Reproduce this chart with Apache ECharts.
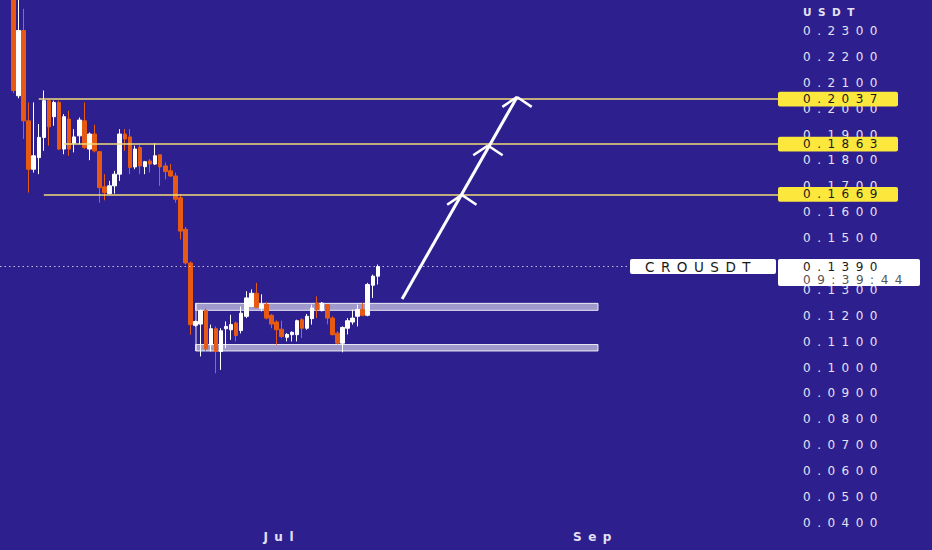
<!DOCTYPE html>
<html>
<head>
<meta charset="utf-8">
<script src="https://cdn.jsdelivr.net/npm/echarts@6/dist/echarts.min.js"></script>
<style>
html, body { margin: 0; padding: 0; background: #2e1f8e; }
#chart { width: 932px; height: 550px; }
#chart text { letter-spacing: 6.5px; }
</style>
</head>
<body>
<div id="chart"></div>
<script>
// ---- data ----
const firstDay = '2024-05-09';
const opens = [0.2500,0.2050,0.2302,0.1953,0.1766,0.1811,0.1889,0.2031,0.1969,0.2024,
0.1844,0.1960,0.1866,0.1895,0.1953,0.1844,0.1902,0.1834,0.1698,0.1672,
0.1702,0.1747,0.1902,0.1891,0.1775,0.1850,0.1776,0.1798,0.1786,0.1822,
0.1779,0.1760,0.1740,0.1656,0.1534,0.1404,0.1163,0.1168,0.1220,0.1088,
0.1150,0.1062,0.1150,0.1146,0.1172,0.1143,0.1198,0.1236,0.1287,0.1229,
0.1244,0.1202,0.1176,0.1148,0.1117,0.1127,0.1127,0.1185,0.1152,0.1189,
0.1249,0.1220,0.1243,0.1191,0.1133,0.1094,0.1152,0.1176,0.1198,0.1224,
0.1202,0.1318,0.1353];
const closes = [0.2070,0.2302,0.1953,0.1766,0.1818,0.1889,0.2031,0.1930,0.2024,0.1844,
0.1969,0.1844,0.1891,0.1956,0.1850,0.1902,0.1837,0.1695,0.1676,0.1702,
0.1747,0.1902,0.1883,0.1773,0.1844,0.1779,0.1795,0.1786,0.1818,0.1775,
0.1757,0.1740,0.1650,0.1527,0.1404,0.1166,0.1178,0.1220,0.1072,0.1150,
0.1062,0.1142,0.1159,0.1166,0.1124,0.1210,0.1269,0.1287,0.1233,0.1244,
0.1191,0.1168,0.1146,0.1120,0.1128,0.1136,0.1181,0.1152,0.1198,0.1230,
0.1224,0.1249,0.1191,0.1127,0.1094,0.1155,0.1181,0.1191,0.1224,0.1202,
0.1321,0.1353,0.1390];
const lows = [0.2060,0.2040,0.1883,0.1676,0.1753,0.1747,0.1837,0.1857,0.1934,0.1840,
0.1824,0.1818,0.1831,0.1863,0.1844,0.1801,0.1831,0.1637,0.1646,0.1669,
0.1672,0.1721,0.1837,0.1747,0.1766,0.1747,0.1747,0.1753,0.1782,0.1702,
0.1727,0.1736,0.1637,0.1495,0.1398,0.1127,0.1158,0.1043,0.1062,0.1062,
0.0978,0.0991,0.1075,0.1107,0.1101,0.1132,0.1191,0.1233,0.1230,0.1217,
0.1186,0.1152,0.1088,0.1114,0.1101,0.1101,0.1101,0.1114,0.1146,0.1166,
0.1191,0.1217,0.1167,0.1124,0.1090,0.1059,0.1128,0.1166,0.1159,0.1198,
0.1198,0.1269,0.1321];
const highs = [0.2550,0.2450,0.2386,0.2024,0.2024,0.1941,0.2070,0.2031,0.2031,0.2031,
0.1979,0.1992,0.1921,0.1966,0.2024,0.1908,0.1938,0.1837,0.1747,0.1721,
0.1760,0.1921,0.1921,0.1921,0.1857,0.1860,0.1798,0.1805,0.1866,0.1822,
0.1792,0.1786,0.1753,0.1671,0.1543,0.1410,0.1182,0.1224,0.1229,0.1166,
0.1159,0.1152,0.1178,0.1204,0.1178,0.1236,0.1295,0.1302,0.1327,0.1283,
0.1252,0.1207,0.1182,0.1181,0.1133,0.1140,0.1185,0.1191,0.1207,0.1243,
0.1275,0.1253,0.1244,0.1198,0.1140,0.1159,0.1191,0.1224,0.1243,0.1249,
0.1327,0.1359,0.1398];

const xTickMonths = [7, 9];            // months labelled on the time axis
const xTickLabels = ['Jul', 'Sep'];
const xRange = ['2024-05-06 08:10', '2024-10-07 01:26'];
const yRange = [0.03, 0.24197];
const yStep = 0.01;
const yLabelRange = [0.04, 0.23];

const levels = [0.2037, 0.1863, 0.1669];
const levelStarts = ['2024-05-14', '2024-05-19', '2024-05-15'];

const lastPrice = 0.1390;
const symbolName = 'CROUSDT';
const countdown = '09:39:44';
const quoteName = 'USDT';

const zoneStart = '2024-06-14';
const zoneEnd = '2024-09-01 12:00';
const zoneTop = [0.1248, 0.1221];
const zoneBottom = [0.1089, 0.1064];

const arrowFrom = ['2024-07-24 19:00', 0.1265];
const arrowTo = ['2024-08-16 12:00', 0.2045];
const chevronTips = [['2024-08-05 14:00', 0.1667], ['2024-08-10 18:00', 0.1858], ['2024-08-16 12:00', 0.2045]];

// ---- helpers ----
const DAY = 86400000;
function ts(s) {
  const parts = s.split(' ');
  const d = parts[0].split('-').map(Number);
  const t = (parts[1] || '00:00').split(':').map(Number);
  return new Date(d[0], d[1] - 1, d[2], t[0], t[1]).getTime();
}
const firstParts = firstDay.split('-').map(Number);
const candleData = opens.map((o, i) => [
  new Date(firstParts[0], firstParts[1] - 1, firstParts[2] + i).getTime(), o, closes[i], lows[i], highs[i]
]);

const UP = '#ffffff', DOWN = '#e65a14';
const LABEL = '#e4e1f4';
const FONT = '"DejaVu Sans", sans-serif';

const seg = (a, b, style) => [{ coord: a, lineStyle: style }, { coord: b }];
const lineData = [];
levels.forEach((l, i) => {
  lineData.push(seg([ts(levelStarts[i]), l], [ts(xRange[1]), l], { color: '#f1dc78', width: 1.6, type: 'solid' }));
});
lineData.push(seg([ts(xRange[0]), lastPrice], [ts(xRange[1]), lastPrice], { color: 'rgba(255,255,255,0.7)', width: 1, type: [1.5, 3] }));
lineData.push(seg([ts(zoneStart), zoneTop[0]], [ts(zoneStart), zoneBottom[1]], { color: 'rgba(255,255,255,0.6)', width: 1.5, type: 'solid' }));
const arrowStyle = { color: '#ffffff', width: 3, type: 'solid' };
lineData.push(seg([ts(arrowFrom[0]), arrowFrom[1]], [ts(arrowTo[0]), arrowTo[1]], arrowStyle));
const armDx = 2.9 * DAY, armDy = 0.0038;
chevronTips.forEach(c => {
  const t = ts(c[0]), p = c[1];
  const st = { color: '#ffffff', width: 2.5, type: 'solid' };
  lineData.push(seg([t - armDx, p - armDy], [t, p], st));
  lineData.push(seg([t, p], [t + armDx, p - armDy], st));
});

const bandStyle = { color: 'rgba(255,255,255,0.55)', borderColor: 'rgba(255,255,255,0.85)', borderWidth: 1 };
const areaData = [
  [{ coord: [ts(zoneStart), zoneTop[0]], itemStyle: bandStyle }, { coord: [ts(zoneEnd), zoneTop[1]] }],
  [{ coord: [ts(zoneStart), zoneBottom[0]], itemStyle: bandStyle }, { coord: [ts(zoneEnd), zoneBottom[1]] }]
];

const chart = echarts.init(document.getElementById('chart'), null, { renderer: 'svg' });
chart.setOption({
  animation: false,
  backgroundColor: '#2e1f8e',
  textStyle: { fontFamily: FONT },
  grid: { left: 0, right: 154, top: 0, bottom: 1.2 },
  xAxis: {
    type: 'time',
    min: ts(xRange[0]), max: ts(xRange[1]),
    offset: -22,
    axisLine: { show: false }, axisTick: { show: false }, splitLine: { show: false },
    axisLabel: {
      color: LABEL, fontSize: 12, fontWeight: 'bold', fontFamily: FONT, margin: 4,
      hideOverlap: false,
      formatter: function (v) {
        const d = new Date(v);
        if (d.getDate() !== 1 || d.getHours() !== 0 || d.getMinutes() !== 0) return '';
        const k = xTickMonths.indexOf(d.getMonth() + 1);
        return k >= 0 ? xTickLabels[k] : '';
      }
    }
  },
  yAxis: {
    type: 'value', position: 'right',
    min: yRange[0], max: yRange[1], interval: yStep,
    axisLine: { show: false }, axisTick: { show: false }, splitLine: { show: false },
    axisLabel: {
      margin: 25, color: LABEL, fontSize: 12, fontFamily: FONT,
      formatter: function (v) {
        if (v < yLabelRange[0] - 0.001 || v > yLabelRange[1] + 0.001) return '';
        // the label under the last-price box is hidden, as on the reference
        if (Math.abs(v - lastPrice) < 0.004) return '';
        return v.toFixed(4);
      }
    }
  },
  series: [{
    type: 'candlestick',
    data: candleData,
    barWidth: 4,
    clip: true,
    itemStyle: { color: UP, color0: DOWN, borderColor: UP, borderColor0: DOWN, borderWidth: 1 },
    markArea: { silent: true, data: areaData },
    markLine: { silent: true, symbol: 'none', label: { show: false }, data: lineData }
  }]
});

// price tags placed with the library's own scales
const xr = chart.convertToPixel({ xAxisIndex: 0 }, ts(xRange[1]));
const yOf = v => chart.convertToPixel({ yAxisIndex: 0 }, v);
const g = [];
levels.forEach(l => {
  const y = yOf(l);
  g.push({ type: 'rect', z: 100, shape: { x: xr, y: y - 7.3, width: 120, height: 14.6, r: 2 }, style: { fill: '#fce83c' } });
  g.push({ type: 'text', z: 101, x: xr + 25, y: y, style: { text: l.toFixed(4), fill: '#1a1a1a', fontSize: 12, fontFamily: FONT, verticalAlign: 'middle' } });
});
const yp = yOf(lastPrice);
g.push({ type: 'rect', z: 100, shape: { x: xr - 148, y: yp - 7.5, width: 146, height: 15, r: 2 }, style: { fill: '#ffffff' } });
g.push({ type: 'text', z: 101, x: xr - 133, y: yp, style: { text: symbolName, fill: '#1a1a1a', fontSize: 13.5, fontFamily: FONT, verticalAlign: 'middle' } });
g.push({ type: 'rect', z: 100, shape: { x: xr, y: yp - 7.5, width: 142, height: 27, r: 2 }, style: { fill: '#ffffff' } });
g.push({ type: 'text', z: 101, x: xr + 25, y: yp, style: { text: lastPrice.toFixed(4), fill: '#1a1a1a', fontSize: 12, fontFamily: FONT, verticalAlign: 'middle' } });
g.push({ type: 'text', z: 101, x: xr + 25, y: yp + 13, style: { text: countdown, fill: '#555555', fontSize: 12, fontFamily: FONT, verticalAlign: 'middle' } });
g.push({ type: 'text', z: 101, x: xr + 25, y: 12, style: { text: quoteName, fill: LABEL, fontSize: 10.5, fontWeight: 'bold', fontFamily: FONT, verticalAlign: 'middle' } });
chart.setOption({ graphic: g });
</script>
</body>
</html>
